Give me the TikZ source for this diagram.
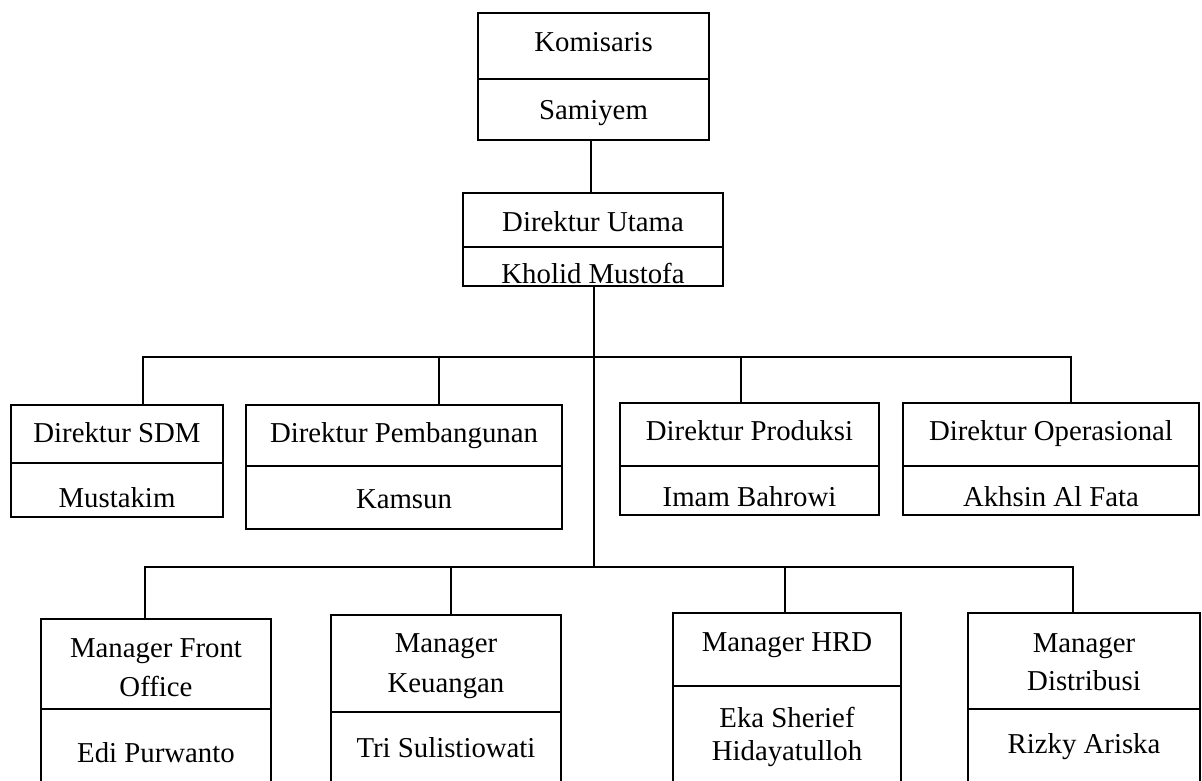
\documentclass[tikz,border=0pt]{standalone}
\usepackage{fontspec}
\setmainfont{Liberation Serif}
\tikzset{
  conn/.style={line width=1.4pt, black},
  orgrect/.style={draw=black, line width=1.4pt, rectangle, inner sep=0pt, outer sep=0pt},
  txt/.style={font=\fontsize{28.8}{34}\selectfont, inner sep=0pt, anchor=base, text=black},
}
% name, x1, y1, x2, y2, ydivider
\newcommand{\orgbox}[6]{%
  \node[orgrect, minimum width={(#4-#2)*1pt}, minimum height={(#5-#3)*1pt}] (#1) at ({(#2+#4)/2},{(#3+#5)/2}) {};
  \draw[conn] (#2,#6) -- (#4,#6);
}
\begin{document}
\begin{tikzpicture}[x=1pt, y=-1pt]
\useasboundingbox (0,0) rectangle (1202,781);
\clip (0,0) rectangle (1202,781);

% boxes
\orgbox{kom}{478}{13}{709}{140}{79}
\orgbox{du}{463}{193}{723}{286}{247}
\orgbox{sdm}{11}{405}{223}{517}{463}
\orgbox{pbg}{246}{405}{562}{529}{466}
\orgbox{prd}{620}{403}{879}{515}{466}
\orgbox{ops}{903}{403}{1199}{515}{466}
\orgbox{mfo}{41}{619}{271}{820}{709}
\orgbox{mku}{331}{615}{561}{820}{712}
\orgbox{mhr}{673}{613}{901}{820}{686}
\orgbox{mds}{968}{613}{1200}{820}{709}

% texts
\node[txt] (t-kom1) at (593.5,52) {Komisaris};
\node[txt] (t-kom2) at (593.5,120) {Samiyem};
\node[txt] (t-du1) at (593,231) {Direktur Utama};
\node[txt] (t-du2) at (593,283) {Kholid Mustofa};
\node[txt] (t-sdm1) at (117,442) {Direktur SDM};
\node[txt] (t-sdm2) at (117,507) {Mustakim};
\node[txt] (t-pbg1) at (404,442) {Direktur Pembangunan};
\node[txt] (t-pbg2) at (404,508) {Kamsun};
\node[txt] (t-prd1) at (749.5,440) {Direktur Produksi};
\node[txt] (t-prd2) at (749.5,506) {Imam Bahrowi};
\node[txt] (t-ops1) at (1051,440) {Direktur Operasional};
\node[txt] (t-ops2) at (1051,506) {Akhsin Al Fata};
\node[txt] (t-mfo1) at (156,657) {Manager Front};
\node[txt] (t-mfo2) at (156,696) {Office};
\node[txt] (t-mfo3) at (156,762) {Edi Purwanto};
\node[txt] (t-mku1) at (446,652) {Manager};
\node[txt] (t-mku2) at (446,692) {Keuangan};
\node[txt] (t-mku3) at (446,757) {Tri Sulistiowati};
\node[txt] (t-mhr1) at (787,651) {Manager HRD};
\node[txt] (t-mhr2) at (787,727) {Eka Sherief};
\node[txt] (t-mhr3) at (787,760) {Hidayatulloh};
\node[txt] (t-mds1) at (1084,652) {Manager};
\node[txt] (t-mds2) at (1084,690) {Distribusi};
\node[txt] (t-mds3) at (1084,753) {Rizky Ariska};

% connector coordinates on the buses
\coordinate (dbL) at (143,357);
\coordinate (dbP) at (439,357);
\coordinate (dbQ) at (741,357);
\coordinate (dbR) at (1071,357);
\coordinate (mbL) at (145,567);
\coordinate (mbK) at (451,567);
\coordinate (mbH) at (785,567);
\coordinate (mbR) at (1073,567);
\coordinate (dstem) at (594,567);

% connectors
\draw[conn] (kom.south -| 591,0) -- (du.north -| 591,0);
\draw[conn] (du.south -| 594,0) -- (dstem);
\draw[conn] (dbL |- sdm.north) -- (dbL) -- (dbR) -- (dbR |- ops.north);
\draw[conn] (dbP) -- (dbP |- pbg.north);
\draw[conn] (dbQ) -- (dbQ |- prd.north);
\draw[conn] (mbL |- mfo.north) -- (mbL) -- (mbR) -- (mbR |- mds.north);
\draw[conn] (mbK) -- (mbK |- mku.north);
\draw[conn] (mbH) -- (mbH |- mhr.north);
\end{tikzpicture}
\end{document}
